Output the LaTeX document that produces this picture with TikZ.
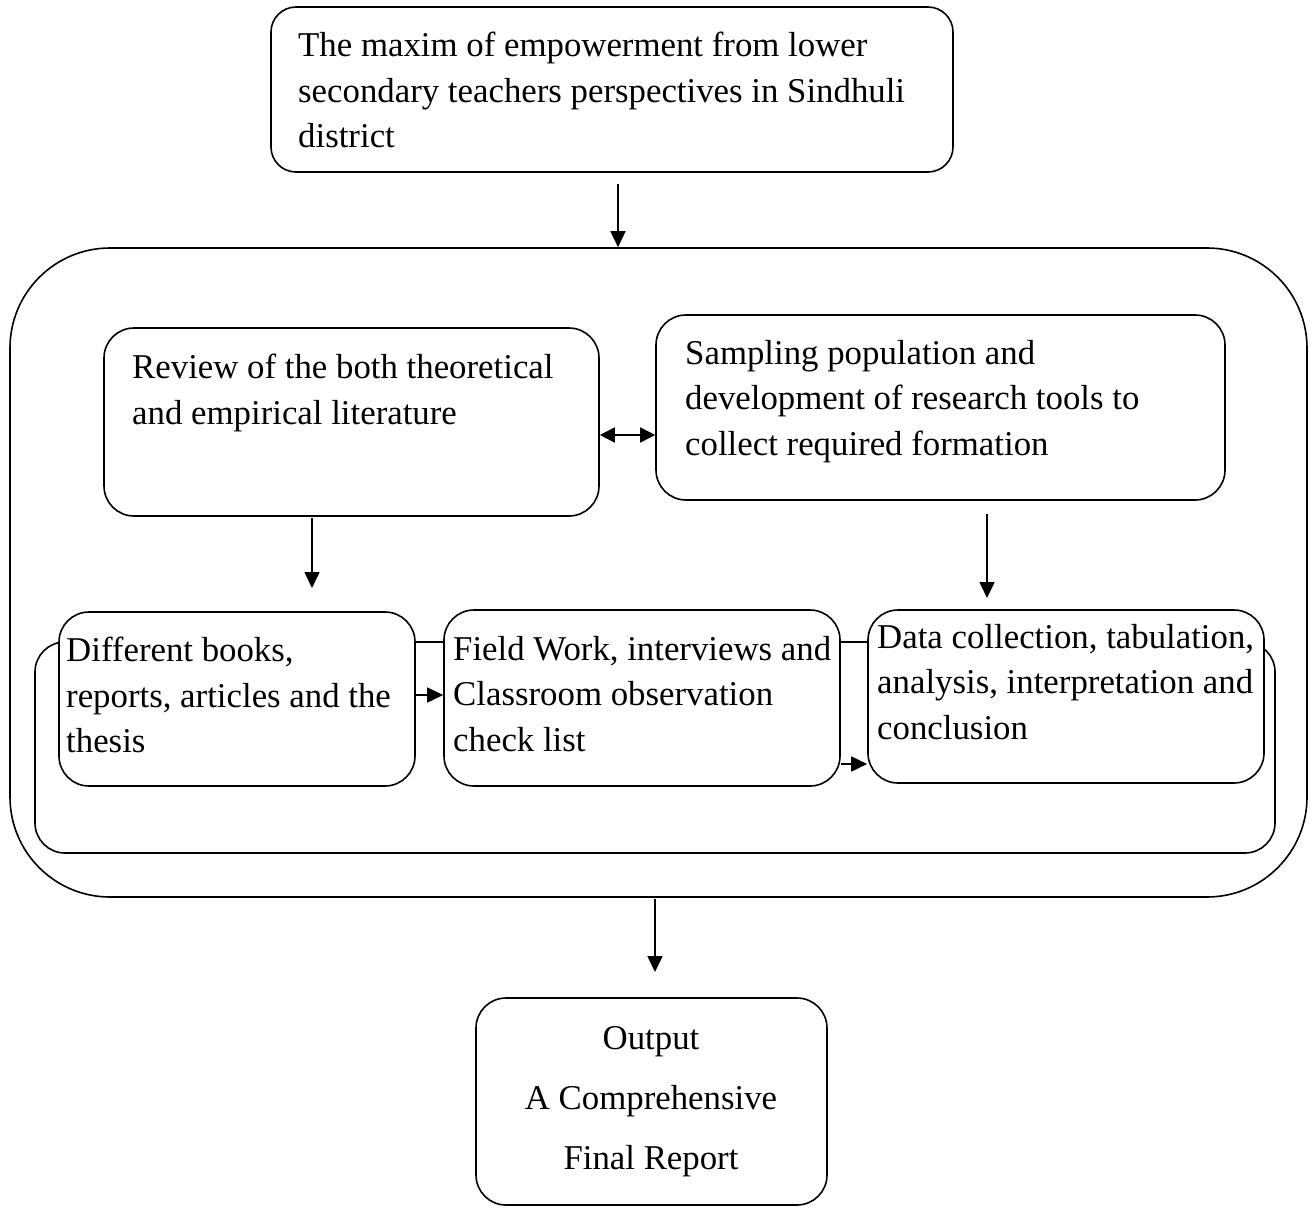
\documentclass[tikz,border=0pt]{standalone}
\usepackage{fontspec}
\setmainfont{Liberation Serif}
\usetikzlibrary{arrows.meta,calc}
\begin{document}
\begin{tikzpicture}[x=1pt,y=-1pt,
  box/.style={draw,line width=1.6pt,rectangle,rounded corners=30pt,fill=white,inner sep=0pt},
  txt/.style={inner sep=0pt,align=left,anchor=north west,font=\fontsize{34.8}{45.5}\selectfont},
  arr/.style={line width=1.6pt,-{Triangle[length=16pt,width=15pt]}},
  darr/.style={line width=1.6pt,{Triangle[length=15pt,width=15pt]}-{Triangle[length=15pt,width=15pt]}}]
\useasboundingbox (0,0) rectangle (1314,1207);
% boxes
\node[box,rounded corners=25pt,minimum width=682pt,minimum height=165pt] (top) at (612,89.5) {};
\node[box,rounded corners=100pt,minimum width=1297pt,minimum height=649pt] (outer) at (658.5,572.5) {};
\node[box,minimum width=495pt,minimum height=188pt] (review) at (351.5,422) {};
\node[box,minimum width=569pt,minimum height=185pt] (sampling) at (940.5,407.5) {};
\node[box,minimum width=1240pt,minimum height=211pt] (inner) at (655,747.5) {};
\node[box,minimum width=356pt,minimum height=174pt] (books) at (237,699) {};
\node[box,minimum width=396pt,minimum height=176pt] (field) at (642,698) {};
\node[box,minimum width=396pt,minimum height=173pt] (data) at (1066,696.5) {};
\node[box,minimum width=351pt,minimum height=207pt] (output) at (651.5,1101.5) {};
% texts
\node[txt] (ttop) at (298,32) {The maxim of empowerment from lower\\secondary teachers perspectives in Sindhuli\\district};
\node[txt] (treview) at (132,354) {Review of the both theoretical\\and empirical literature};
\node[txt] (tsampling) at (685,340) {Sampling population and\\development of research tools to\\collect required formation};
\node[txt] (tbooks) at (66,637) {Different books,\\reports, articles and the\\thesis};
\node[txt] (tfield) at (453,636) {Field Work, interviews and\\Classroom observation\\check list};
\node[txt] (tdata) at (877,624) {Data collection, tabulation,\\analysis, interpretation and\\conclusion};
\node[inner sep=0pt,align=center,anchor=north,font=\fontsize{34.8}{60}\selectfont] (toutput) at (651,1026) {Output\\A Comprehensive\\Final Report};
% connectors
\coordinate (e1) at (312,588);
\coordinate (e2) at (987,598);
\coordinate (e3) at (655,972);
\draw[arr] ($(top.south)+(6,11)$) -- ($(outer.north)+(-40.5,0)$);
\draw[darr] ($(review.east)+(0,13)$) -- ($(sampling.west)+(0,27.5)$);
\draw[arr] ($(review.south)+(-39.5,1)$) -- (e1);
\draw[arr] ($(sampling.south)+(46.5,13)$) -- (e2);
\draw[arr] ($(books.east)+(0,-4)$) -- ($(field.west)+(0,-3)$);
\draw[arr] ($(field.east)+(0,66)$) -- ($(data.west)+(0,67.5)$);
\draw[arr] ($(outer.south)+(-3.5,1)$) -- (e3);
\end{tikzpicture}
\end{document}
